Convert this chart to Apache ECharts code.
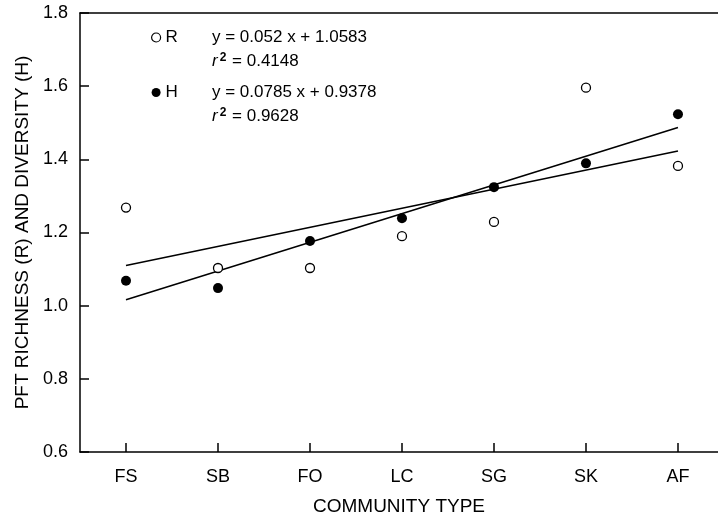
<!DOCTYPE html>
<html>
<head>
<meta charset="utf-8">
<script src="https://cdn.jsdelivr.net/npm/echarts@6/dist/echarts.min.js"></script>
<style>
  html, body { margin: 0; padding: 0; background: #fff; }
  #chart { width: 718px; height: 517px; }
</style>
</head>
<body>
<div id="chart"></div>
<script>
const categories = ['FS', 'SB', 'FO', 'LC', 'SG', 'SK', 'AF']
const richness = [1.268, 1.103, 1.103, 1.190, 1.229, 1.596, 1.382]
const diversity = [1.068, 1.048, 1.177, 1.239, 1.324, 1.389, 1.523]
// fitted lines, read at FS and AF
const fitX = [1, 7]
const fitR = [1.110, 1.423]
const fitH = [1.016, 1.487]
const yTicks = [0.6, 0.8, 1.0, 1.2, 1.4, 1.6, 1.8]

const font = 'Liberation Sans, Arial, sans-serif'
const pos = categories.map((c, i) => i + 1)

const chart = echarts.init(document.getElementById('chart'))

const eqText = (y, text) => ({
  type: 'text', x: 0, y: y,
  style: { text: text, fontSize: 17, fontFamily: font, fill: '#000' }
})
const r2Text = (y, text) => ({
  type: 'text', x: 0, y: y,
  style: {
    text: '{i|r}{s|2}{n| = ' + text + '}',
    fontSize: 17, fontFamily: font, fill: '#000',
    rich: {
      i: { fontStyle: 'italic', fontSize: 17, fontFamily: font, fill: '#000' },
      s: { fontSize: 12, fontWeight: 'bold', fontFamily: font, fill: '#000', verticalAlign: 'top', padding: [0, 1, 6, 2] },
      n: { fontSize: 17, fontFamily: font, fill: '#000' }
    }
  }
})

const option = {
  animation: false,
  backgroundColor: '#fff',
  textStyle: { fontFamily: font, color: '#000' },
  grid: { left: 80, right: 0, top: 13, bottom: 65, outerBoundsMode: 'none' },
  legend: {
    orient: 'vertical',
    left: 146,
    top: 24,
    itemGap: 38,
    itemWidth: 9,
    itemHeight: 9,
    textStyle: { fontFamily: font, fontSize: 17, color: '#000' },
    data: [
      { name: 'R', icon: 'circle', itemStyle: { color: '#fff', borderColor: '#000', borderWidth: 1.2 } },
      { name: 'H', icon: 'circle', itemStyle: { color: '#000' } }
    ]
  },
  xAxis: [
    {
      type: 'value',
      min: 0.5,
      max: 7.435,
      name: 'COMMUNITY TYPE',
      nameLocation: 'middle',
      nameGap: 45,
      nameTextStyle: { fontFamily: font, fontSize: 19, color: '#000' },
      axisLine: { lineStyle: { color: '#000', width: 1.5 } },
      axisTick: { inside: true, length: 9, customValues: pos, lineStyle: { color: '#000', width: 1.5 } },
      axisLabel: {
        customValues: pos,
        margin: 16,
        fontSize: 18,
        color: '#000',
        fontFamily: font,
        formatter: v => categories[Math.round(v) - 1] || ''
      },
      splitLine: { show: false }
    },
    {
      type: 'value',
      position: 'top',
      min: 0.5,
      max: 7.435,
      axisLine: { show: true, lineStyle: { color: '#000', width: 1.5 } },
      axisTick: { show: false },
      axisLabel: { show: false },
      splitLine: { show: false }
    }
  ],
  yAxis: {
    type: 'value',
    min: 0.6,
    max: 1.8,
    interval: 0.2,
    name: 'PFT RICHNESS (R) AND DIVERSITY (H)',
    nameLocation: 'middle',
    nameGap: 48,
    nameTextStyle: { fontFamily: font, fontSize: 19, color: '#000' },
    axisLine: { show: true, lineStyle: { color: '#000', width: 1.5 } },
    axisTick: { inside: true, length: 9, lineStyle: { color: '#000', width: 1.5 } },
    axisLabel: {
      margin: 12,
      fontSize: 18,
      color: '#000',
      fontFamily: font,
      formatter: v => yTicks.includes(Math.round(v * 10) / 10) ? v.toFixed(1) : ''
    },
    splitLine: { show: false }
  },
  graphic: [
    {
      type: 'group',
      left: 212,
      top: 29,
      children: [
        eqText(0, 'y = 0.052 x + 1.0583'),
        r2Text(23, '0.4148'),
        eqText(55, 'y = 0.0785 x + 0.9378'),
        r2Text(78, '0.9628')
      ]
    }
  ],
  series: [
    {
      name: 'R fit',
      type: 'line',
      data: fitX.map((x, i) => [x, fitR[i]]),
      symbol: 'none',
      lineStyle: { color: '#000', width: 1.5 },
      z: 2
    },
    {
      name: 'H fit',
      type: 'line',
      data: fitX.map((x, i) => [x, fitH[i]]),
      symbol: 'none',
      lineStyle: { color: '#000', width: 1.5 },
      z: 2
    },
    {
      name: 'R',
      type: 'scatter',
      data: pos.map((x, i) => [x, richness[i]]),
      symbol: 'circle',
      symbolSize: 9,
      itemStyle: { color: '#fff', borderColor: '#000', borderWidth: 1.3, opacity: 1 },
      z: 3
    },
    {
      name: 'H',
      type: 'scatter',
      data: pos.map((x, i) => [x, diversity[i]]),
      symbol: 'circle',
      symbolSize: 10,
      itemStyle: { color: '#000', opacity: 1 },
      z: 3
    }
  ]
}

chart.setOption(option)
</script>
</body>
</html>
